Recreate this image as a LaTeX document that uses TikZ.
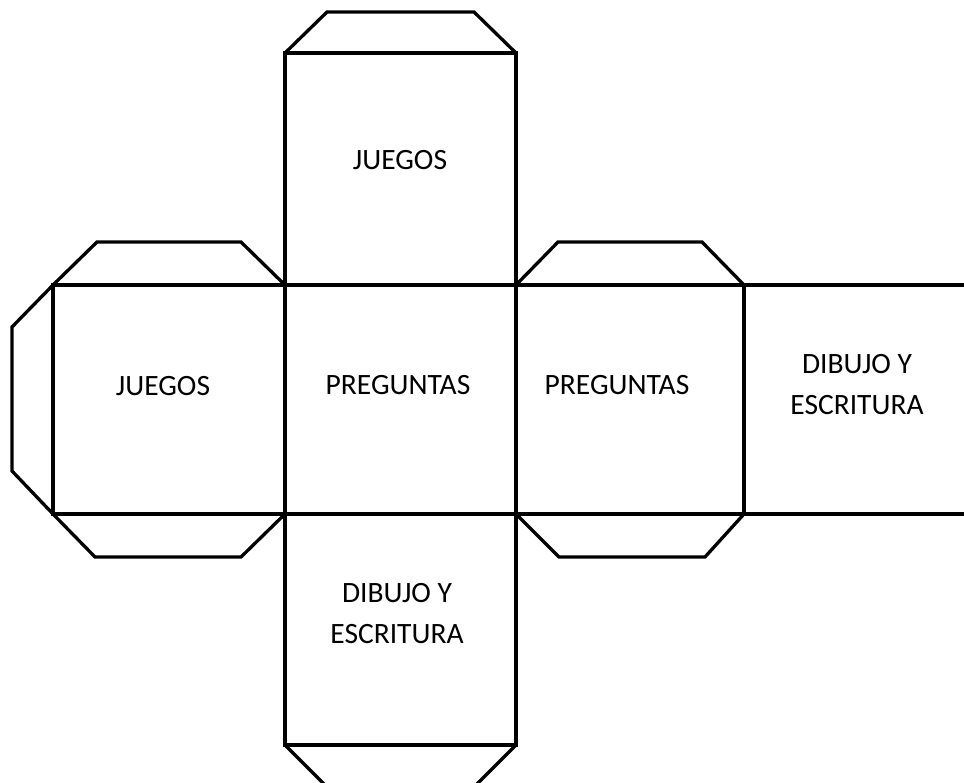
\documentclass[tikz,border=0pt]{standalone}
\usepackage{fontspec}
\setmainfont{Carlito}

\begin{document}
\begin{tikzpicture}
  [x=1pt, y=-1pt, line width=3.3pt,
   face/.style={align=center, inner sep=0pt, font=\fontsize{29.5}{41}\selectfont}]
  \useasboundingbox (0,0) rectangle (964,783);
  \clip (0,0) rectangle (964,783);

  % faces
  \draw (53,285) rectangle (744,514);
  \draw (285,53) rectangle (516,745);
  \draw (744,285) -- (964,285);
  \draw (744,514) -- (964,514);

  % tabs
  \draw (285,53) -- (327,12) -- (474,12) -- (516,53);
  \draw (285,745) -- (327,787) -- (474,787) -- (516,745);
  \draw (53,285) -- (97,242) -- (241,242) -- (285,285);
  \draw (53,514) -- (95,557) -- (241,557) -- (285,514);
  \draw (53,285) -- (12,327) -- (12,471) -- (53,514);
  \draw (516,285) -- (558,242) -- (702,242) -- (744,285);
  \draw (516,514) -- (559,557) -- (705,557) -- (744,514);

  \node[face] (n1) at (400,160) {JUEGOS};
  \node[face] (n2) at (163,386) {JUEGOS};
  \node[face] (n3) at (398,385) {PREGUNTAS};
  \node[face] (n4) at (617,385) {PREGUNTAS};
  \node[face] (n5) at (857,385) {DIBUJO Y\\ESCRITURA};
  \node[face] (n6) at (397,614) {DIBUJO Y\\ESCRITURA};
\end{tikzpicture}
\end{document}
